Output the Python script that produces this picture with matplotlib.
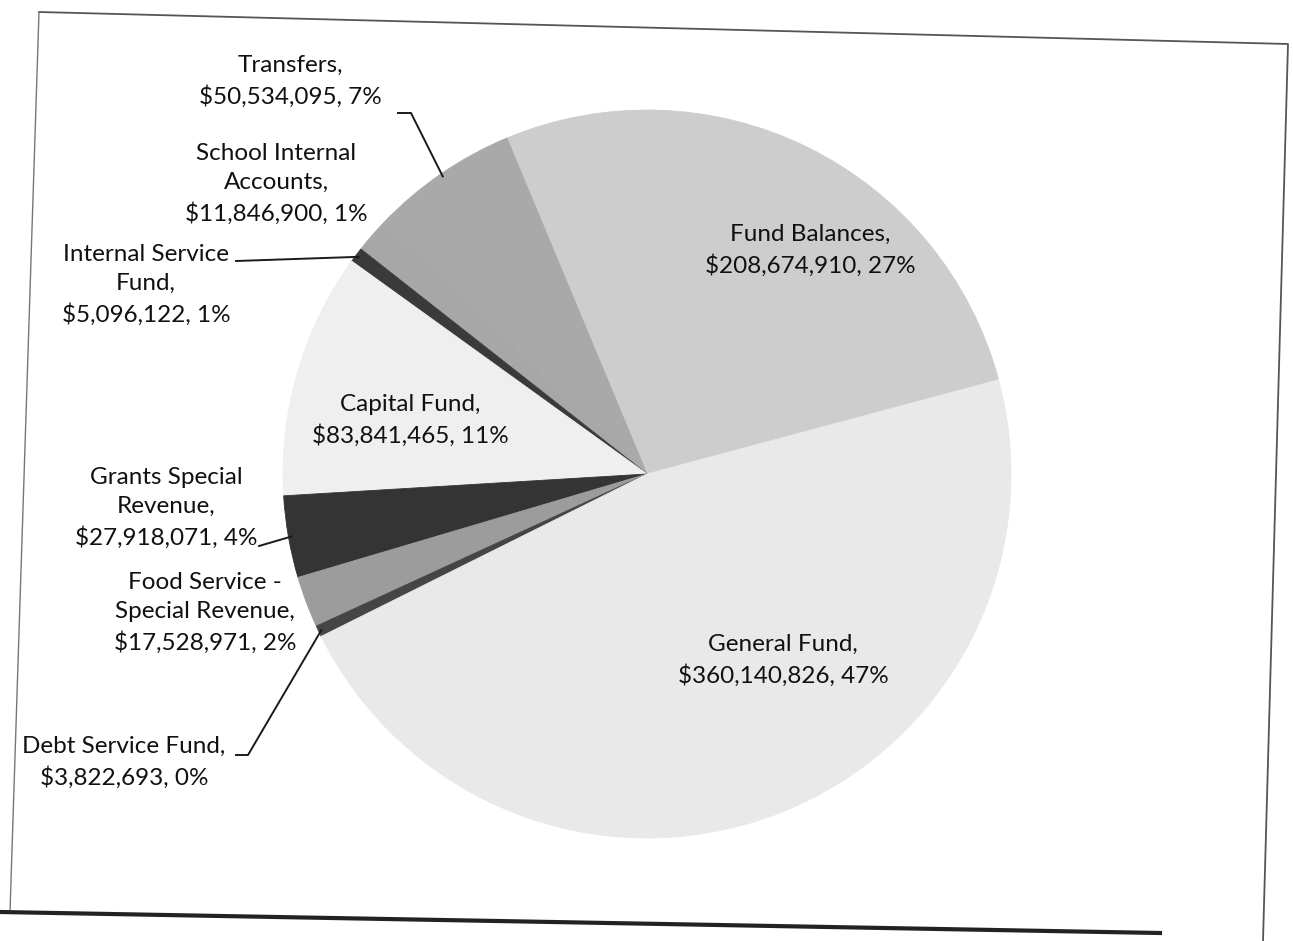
"""Pie chart of district fund allocations (scanned page look)."""

import numpy as np
import matplotlib

matplotlib.use("Agg")
import matplotlib.pyplot as plt

W, H = 1293, 941

# slices in counter-clockwise order starting just above 3 o'clock
fund_names = [
    "Fund Balances",
    "Transfers",
    "School Internal\nAccounts",
    "Internal Service\nFund",
    "Capital Fund",
    "Grants Special\nRevenue",
    "Food Service -\nSpecial Revenue",
    "Debt Service Fund",
    "General Fund",
]
fund_values = [
    208674910,
    50534095,
    11846900,
    5096122,
    83841465,
    27918071,
    17528971,
    3822693,
    360140826,
]
pct_shown = [27, 7, 1, 1, 11, 4, 2, 0, 47]

slice_colors = [
    "#cdcdcd", "#a9a9a9", "#a7a7a7", "#3a3a3a", "#efefef",
    "#343434", "#9c9c9c", "#454545", "#e9e9e9",
]

# label centres in page pixels (x, y from top)
label_pos = [
    (810, 250), (290, 81), (276, 184), (146, 285), (410, 420),
    (166, 508), (205, 613), (124, 762), (783, 660),
]
# where each leader line leaves its label (None -> no leader)
leader_start = [
    None, [(398, 113), (411, 113)], None, [(236, 261)], None,
    [(259, 546)], None, [(236, 755), (248, 755)], None,
]

CENTER = (647, 474)
RADIUS = 364


def flip(y):
    return H - y


fig = plt.figure(figsize=(W / 100, H / 100), dpi=100)
ax = fig.add_axes([0, 0, 1, 1])

wedges, _ = ax.pie(
    fund_values,
    colors=slice_colors,
    startangle=15,
    counterclock=True,
    center=(CENTER[0], flip(CENTER[1])),
    radius=RADIUS,
    wedgeprops={"linewidth": 0.6},
    frame=True,
)
for wedge, color in zip(wedges, slice_colors):
    wedge.set_edgecolor(color)
ax.set_xlim(0, W)
ax.set_ylim(0, H)
ax.set_aspect("auto")
ax.axis("off")

font = {"family": ["Lato", "DejaVu Sans"], "fontsize": 17.5, "color": "#111111"}
for name, value, pct, (lx, ly) in zip(fund_names, fund_values, pct_shown, label_pos):
    ax.text(lx, flip(ly), f"{name},\n${value:,}, {pct}%", ha="center", va="center",
            linespacing=1.5, **font)

for wedge, start in zip(wedges, leader_start):
    if start is None:
        continue
    theta = np.deg2rad((wedge.theta1 + wedge.theta2) / 2)
    end = (CENTER[0] + (RADIUS - 3) * np.cos(theta), CENTER[1] - (RADIUS - 3) * np.sin(theta))
    pts = start + [end]
    ax.plot([p[0] for p in pts], [flip(p[1]) for p in pts], color="#1a1a1a", lw=1.4)

# skewed page frame from the scan
frame_pts = [(39, 12), (1288, 44), (1263, 941)]
ax.plot([p[0] for p in frame_pts], [flip(p[1]) for p in frame_pts], color="#555555", lw=1.3)
ax.plot([39, 10], [flip(12), flip(912)], color="#777777", lw=1.0)
ax.plot([0, 1160], [flip(912), flip(933)], color="#222222", lw=3.0)

fig.savefig("out.png", dpi=100)
